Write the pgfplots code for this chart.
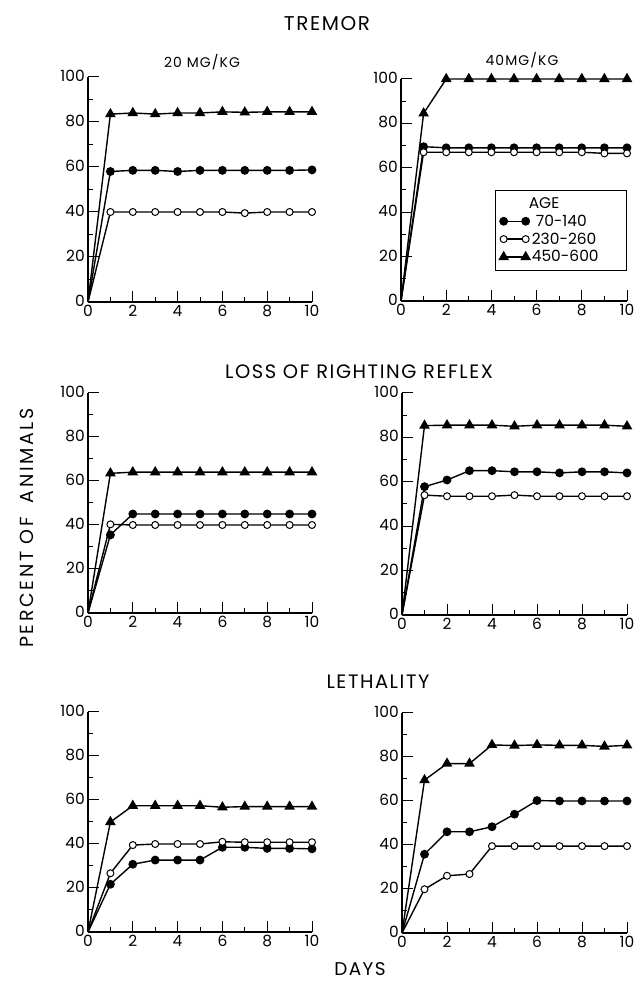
\documentclass[border=0pt]{standalone}
\usepackage{fontspec}
\setmainfont{Poppins}
\newfontfamily\spaced[LetterSpace=8]{Poppins}
\newfontfamily\wide[LetterSpace=14]{Poppins}
\usepackage{pgfplots}
\usepackage{pgfplotstable}
\pgfplotsset{compat=1.18}

% day, filled (70-140), open (230-260), triangle (450-600)
\pgfplotstableread{
day f o t
0 0 0 0
1 58 40 83.5
2 58.5 40 84
3 58.5 40 83.5
4 58 40 84
5 58.5 40 84
6 58.5 40 84.5
7 58.5 39.5 84.3
8 58.5 40 84.5
9 58.5 40 84.5
10 58.7 40 84.5
}\tremorA
\pgfplotstableread{
day f o t
0 0 0 0
1 69.5 67 84.5
2 69 67 100
3 69 67 100
4 69 67 100
5 69 67 100
6 69 67 100
7 69 67 100
8 69 67 100
9 69 66.5 100
10 69 66.5 100
}\tremorB
\pgfplotstableread{
day f o t
0 0 0 0
1 35.5 40.3 63.5
2 45 40 64
3 45 40 64
4 45 40 64
5 45 40 64
6 45 40 64
7 45 40 64
8 45 40 64
9 45 40 64
10 45 40 64
}\lrrA
\pgfplotstableread{
day f o t
0 0 0 0
1 57.8 54 85.3
2 60.8 53.5 85.5
3 65 53.5 85.5
4 65 53.5 85.5
5 64.5 54 85
6 64.5 53.5 85.5
7 64 53.5 85.5
8 64.5 53.5 85.5
9 64.5 53.5 85.5
10 64 53.5 85
}\lrrB
\pgfplotstableread{
day f o t
0 0 0 0
1 21.7 26.7 50
2 30.8 39.5 57.4
3 32.7 40 57.4
4 32.7 40 57.4
5 32.7 40 57.4
6 38.5 41 56.7
7 38.5 40.8 57
8 38 40.8 57
9 38 40.8 57
10 37.8 40.8 57
}\lethA
\pgfplotstableread{
day f o t
0 0 0 0
1 35.8 19.9 69.5
2 46 26 77
3 46 26.8 77
4 48.3 39.5 85.5
5 54 39.5 85.2
6 60.2 39.5 85.5
7 60 39.5 85.3
8 60 39.5 85.3
9 60 39.5 84.8
10 60 39.5 85.3
}\lethB

\pgfplotsset{
  panel/.style={
    scale only axis, anchor=south west,
    xmin=0, xmax=10, ymin=0, ymax=100,
    axis lines=left, axis line style={line width=1.5bp, -},
    xtick={0,2,...,10}, ytick={0,20,...,100},
    minor x tick num=1, minor y tick num=1,
    tick align=inside, major tick length=11bp, minor tick length=4.5bp,
    every tick/.style={line width=1bp, black},
    ticklabel style={font=\fontsize{15.5}{15.5}\selectfont},
    xticklabel style={inner sep=0bp, yshift=-3bp},
    yticklabel style={inner sep=0bp, xshift=-3bp, yshift=1bp},
    /pgf/number format/assume math mode=true,
    clip=false,
    every axis plot/.append style={line width=1.4bp, black, mark phase=2, mark repeat=1},
  },
  fc/.style={mark=*, mark size=3.7bp, mark options={fill=black, solid}},
  oc/.style={mark=*, mark size=3.5bp, mark options={fill=white, solid, line width=1bp}},
  tr/.style={mark=triangle*, mark size=4.8bp, mark options={fill=black, solid}},
}

\begin{document}
\begin{tikzpicture}
\useasboundingbox (0,0) rectangle (635bp,981bp);

\node[font=\spaced\fontsize{20}{20}\selectfont] at (327bp,957bp) {TREMOR};
\node[font=\spaced\fontsize{14}{14}\selectfont] at (202bp,919bp) {20 MG/KG};
\node[font=\spaced\fontsize{14}{14}\selectfont] at (522bp,921bp) {40MG/KG};
\node[font=\spaced\fontsize{19.5}{20}\selectfont] at (359bp,609bp) {LOSS OF RIGHTING REFLEX};
\node[font=\spaced\fontsize{19.5}{20}\selectfont] at (378bp,299bp) {LETHALITY};
\node[font=\spaced\fontsize{18.5}{19}\selectfont, inner sep=0pt, anchor=base] at (360bp,6bp) {DAYS};
\node[font=\wide\fontsize{19}{19}\selectfont, rotate=90] at (27bp,453bp) {PERCENT OF\hspace{6bp} ANIMALS};

\begin{axis}[panel, at={(88bp,679bp)}, width=224bp, height=225bp]
\addplot[tr] table[x=day,y=t] {\tremorA};
\addplot[fc] table[x=day,y=f] {\tremorA};
\addplot[oc] table[x=day,y=o] {\tremorA};
\end{axis}

\begin{axis}[panel, at={(401bp,680bp)}, width=226bp, height=222bp,
  legend style={at={(0.416,0.5)}, anchor=north west, draw=black, line width=1bp,
    font=\fontsize{15.5}{15.5}\selectfont, cells={anchor=west}, row sep=1bp,
    inner xsep=4bp, inner ysep=5bp},
  legend image code/.code={\draw[#1, mark phase=1, mark repeat=1] plot coordinates {(0bp,0bp) (22bp,0bp)};}]
\addlegendimage{empty legend}
\addlegendentry{\hspace{-3bp}AGE\rule[-9bp]{0pt}{9bp}}
\addplot[fc] table[x=day,y=f] {\tremorB};
\addlegendentry{\hspace{4bp}70-140}
\addplot[oc] table[x=day,y=o] {\tremorB};
\addlegendentry{230-260}
\addplot[tr] table[x=day,y=t] {\tremorB};
\addlegendentry{450-600\rule{22bp}{0pt}}
\end{axis}

\begin{axis}[panel, at={(88bp,368bp)}, width=224bp, height=220bp]
\addplot[tr] table[x=day,y=t] {\lrrA};
\addplot[fc] table[x=day,y=f] {\lrrA};
\addplot[oc] table[x=day,y=o] {\lrrA};
\end{axis}

\begin{axis}[panel, at={(402bp,366bp)}, width=225bp, height=222bp]
\addplot[tr] table[x=day,y=t] {\lrrB};
\addplot[fc] table[x=day,y=f] {\lrrB};
\addplot[oc] table[x=day,y=o] {\lrrB};
\end{axis}

\begin{axis}[panel, at={(88bp,49bp)}, width=224bp, height=220bp]
\addplot[tr] table[x=day,y=t] {\lethA};
\addplot[fc] table[x=day,y=f] {\lethA};
\addplot[oc] table[x=day,y=o] {\lethA};
\end{axis}

\begin{axis}[panel, at={(402bp,48bp)}, width=225bp, height=220bp]
\addplot[tr] table[x=day,y=t] {\lethB};
\addplot[fc] table[x=day,y=f] {\lethB};
\addplot[oc] table[x=day,y=o] {\lethB};
\end{axis}
\end{tikzpicture}
\end{document}
